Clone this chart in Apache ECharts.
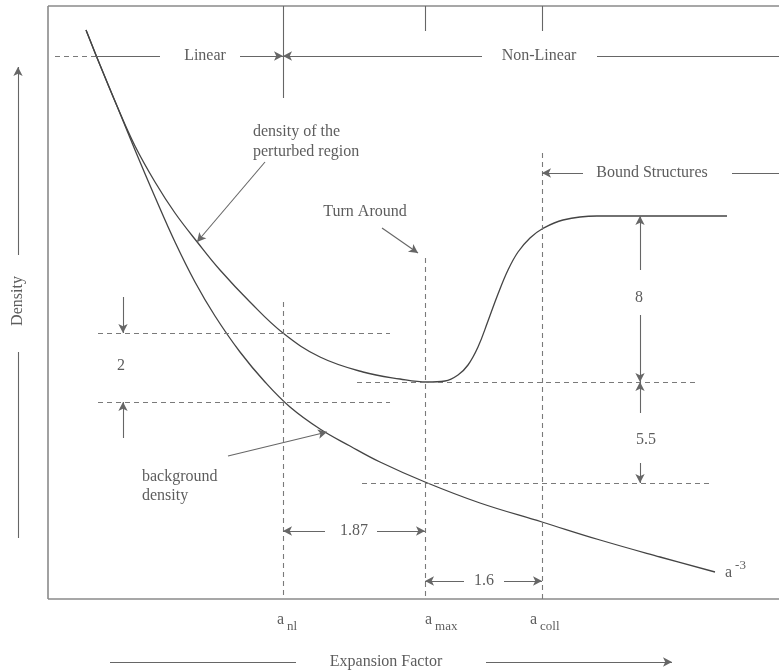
<!DOCTYPE html>
<html><head><meta charset="utf-8">
<script src="https://cdn.jsdelivr.net/npm/echarts@6/dist/echarts.min.js"></script>
<style>html,body{margin:0;padding:0;background:#fff}#c{width:779px;height:670px}</style>
</head><body><div id="c"></div>
<script>
// ---- curve data (x: expansion factor units, y: density units) ----
const perturbedX = [38, 52, 69, 87, 107, 127, 150, 172, 202, 235, 272, 315, 352, 379, 397, 410, 420, 430, 440, 450, 460, 470, 482, 494, 515, 549, 679];
const perturbedY = [569, 534, 493, 453, 417, 386, 356, 329, 297, 266, 242, 227, 220, 217, 218, 224, 234, 252, 278, 305, 329, 347, 361, 370, 379, 383, 383];
const backgroundX = [38, 52, 69, 87, 107, 127, 147, 167, 192, 217, 242, 272, 302, 332, 377, 432, 494, 552, 612, 667];
const backgroundY = [569, 534, 493, 449, 402, 357, 317, 283, 247, 217, 192, 170, 153, 137, 117, 96, 77, 59, 42, 27];

// ---- frame (the axes box) ----
const frameLines = [[0, 0, 0, 593], [0, 593, 731, 593], [0, 0, 731, 0]];

// ---- dashed guide lines [x1,y1,x2,y2] ----
const guideLines = [
  [235, 297, 235, 0], [377, 341, 377, 0], [494, 446, 494, 0],
  [50, 266, 342, 266], [50, 197, 342, 197],
  [309, 217, 650, 217], [314, 116, 662, 116],
  [7, 543, 47, 543]
];

// ---- solid annotation lines [x1,y1,x2,y2,arrowAtStart,arrowAtEnd] ----
const annotLines = [
  [47, 543, 112, 543, 0, 0], [192, 543, 235, 543, 0, 1], [235, 543, 434, 543, 1, 0], [549, 543, 731, 543, 0, 0],
  [235, 593, 235, 501, 0, 0], [377, 593, 377, 568, 0, 0], [494, 593, 494, 568, 0, 0],
  [535, 426, 494, 426, 0, 1], [684, 426, 731, 426, 0, 0],
  [75, 302, 75, 266, 0, 1], [75, 161, 75, 197, 0, 1],
  [592, 329, 592, 383, 0, 1], [592, 284, 592, 217, 0, 1],
  [592, 186, 592, 217, 0, 1], [592, 136, 592, 116, 0, 1],
  [277, 68, 235, 68, 0, 1], [329, 68, 377, 68, 0, 1],
  [416, 18, 377, 18, 0, 1], [456, 18, 494, 18, 0, 1],
  [217, 437, 149, 357, 0, 1], [334, 371, 370, 346, 0, 1], [180, 143, 279, 167, 0, 1],
  [-30, 344, -30, 532, 0, 1], [-30, 247, -30, 61, 0, 0],
  [62, -63, 248, -63, 0, 0], [438, -63, 624, -63, 0, 1]
];

// ---- text labels [text, x, y, align, rotate] ----
const textLabels = [
  ['Linear', 157, 543, 'center', 0],
  ['Non-Linear', 491, 543, 'center', 0],
  ['density of the', 205, 467, 'left', 0],
  ['perturbed region', 205, 447, 'left', 0],
  ['Turn Around', 317, 387, 'center', 0],
  ['Bound Structures', 604, 426, 'center', 0],
  ['2', 73, 233, 'center', 0],
  ['8', 591, 301, 'center', 0],
  ['5.5', 598, 159, 'center', 0],
  ['background', 94, 122, 'left', 0],
  ['density', 94, 103, 'left', 0],
  ['1.87', 306, 68, 'center', 0],
  ['1.6', 436, 18, 'center', 0],
  ['a{sup|-3}', 677, 26, 'left', 0],
  ['a{sub|nl}', 229, -21, 'left', 0],
  ['a{sub|max}', 377, -21, 'left', 0],
  ['a{sub|coll}', 482, -21, 'left', 0],
  ['Expansion Factor', 338, -63, 'center', 0],
  ['Density', -30, 298, 'center', 90]
];

const FONT = 'Liberation Serif';
const TXT = '#333';

function pairs(arr, withArrows) {
  return arr.map(l => [
    { coord: [l[0], l[1]], symbol: withArrows && l[4] ? 'arrow' : 'none' },
    { coord: [l[2], l[3]], symbol: withArrows && l[5] ? 'arrow' : 'none' }
  ]);
}

function mlSeries(name, arr, style, withArrows) {
  return {
    name: name, type: 'line', data: [], silent: true,
    markLine: {
      silent: true, animation: false,
      symbol: ['none', 'none'], symbolSize: [7, 9],
      label: { show: false },
      emphasis: { disabled: true },
      lineStyle: style,
      data: pairs(arr, withArrows)
    }
  };
}

const chart = echarts.init(document.getElementById('c'), null, { renderer: 'canvas' });
chart.setOption({
  animation: false,
  backgroundColor: '#fff',
  grid: { left: 0, right: 0, top: 0, bottom: 0 },
  xAxis: { type: 'value', min: -48, max: 731, show: false },
  yAxis: { type: 'value', min: -71, max: 599, show: false },
  series: [
    mlSeries('frame', frameLines, { color: '#8a8a8a', width: 1.6, type: 'solid' }, false),
    mlSeries('guides', guideLines, { color: '#7a7a7a', width: 1.1, type: [5, 4] }, false),
    mlSeries('annotations', annotLines, { color: '#666', width: 1.1, type: 'solid' }, true),
    {
      name: 'perturbed', type: 'line', smooth: 0.4, symbol: 'none',
      lineStyle: { color: '#444', width: 1.3 },
      data: perturbedX.map((x, i) => [x, perturbedY[i]])
    },
    {
      name: 'background', type: 'line', smooth: 0.4, symbol: 'none',
      lineStyle: { color: '#444', width: 1.3 },
      data: backgroundX.map((x, i) => [x, backgroundY[i]])
    },
    {
      name: 'texts', type: 'scatter', symbolSize: 0, silent: true,
      data: textLabels.map(t => ({
        value: [t[1], t[2]], name: t[0],
        label: { align: t[3], rotate: t[4] }
      })),
      label: {
        show: true, position: 'inside', formatter: '{b}',
        fontFamily: FONT, fontSize: 16, color: TXT,
        rich: {
          sub: { fontFamily: FONT, fontSize: 13, color: TXT, padding: [14, 0, 0, 3] },
          sup: { fontFamily: FONT, fontSize: 13, color: TXT, padding: [0, 0, 14, 3] }
        }
      }
    }
  ]
});
</script>
</body></html>
